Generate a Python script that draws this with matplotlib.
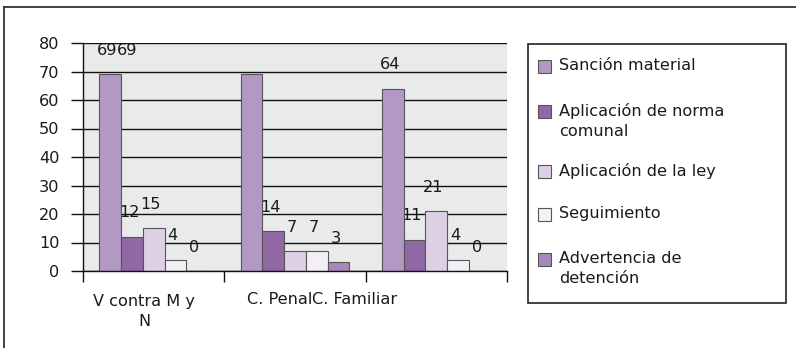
import matplotlib
matplotlib.use("Agg")
import matplotlib.pyplot as plt
from matplotlib.patches import Rectangle
from matplotlib.lines import Line2D
from matplotlib.transforms import blended_transform_factory
import numpy as np

categories = ["V contra M y\nN", "C. Penal", "C. Familiar"]
series_names = [
    "Sanción material",
    "Aplicación de norma\ncomunal",
    "Aplicación de la ley",
    "Seguimiento",
    "Advertencia de\ndetención",
]
sancion_material = [69, 69, 64]
norma_comunal = [12, 14, 11]
aplicacion_ley = [15, 7, 21]
seguimiento = [4, 7, 4]
advertencia = [0, 3, 0]
series_values = [sancion_material, norma_comunal, aplicacion_ley, seguimiento, advertencia]
y_ticks = [0, 10, 20, 30, 40, 50, 60, 70, 80]

colors = ["#b398c4", "#9068a5", "#ddd0e5", "#f3eff6", "#a888bc"]
edge = "#555555"
text_color = "#1a1a1a"

W, H = 796, 348
fig = plt.figure(figsize=(W / 100, H / 100), dpi=100)
fig.patch.set_facecolor("white")

# outer chart frame (top and left edges)
fig.add_artist(Line2D([4 / W, 1.0], [1 - 7 / H, 1 - 7 / H], color="#333333", lw=1.3))
fig.add_artist(Line2D([4 / W, 4 / W], [0, 1 - 7 / H], color="#333333", lw=1.3))

ax = fig.add_axes([83 / W, 77 / H, 424 / W, 228 / H])
ax.set_facecolor("#e9eaea")

n_series = len(series_values)
bar_w = 1 / (n_series + 1.5)
x = np.arange(len(categories))

for i, (vals, col) in enumerate(zip(series_values, colors)):
    offs = (i - (n_series - 1) / 2) * bar_w
    ax.bar(x + offs, vals, width=bar_w, color=col, edgecolor=edge, linewidth=0.8, zorder=2)
    for j, v in enumerate(vals):
        lx = x[j] + offs - 0.02
        # the first "C. Penal" value label sits beside the first group's label
        if i == 0 and j == 1:
            lx = -0.19
        ax.text(lx, v + 8.4, str(v), ha="center", va="center", fontsize=11.6,
                color=text_color, zorder=0.4)

ax.set_ylim(0, 80)
ax.set_xlim(-0.5, len(categories) - 0.5)
ax.set_yticks(y_ticks)
ax.yaxis.grid(True, color="#111111", linewidth=1.0)
ax.set_axisbelow(True)
ax.tick_params(axis="y", length=9, width=1.0, pad=8, labelsize=11.6, color="#111111",
               labelcolor=text_color)
ax.set_xticks(np.arange(len(categories) + 1) - 0.5)
ax.set_xticklabels([])
ax.tick_params(axis="x", length=8, width=1.0, color="#111111")
for s in ["top", "right"]:
    ax.spines[s].set_visible(False)
for s in ["left", "bottom"]:
    ax.spines[s].set_color("#111111")
    ax.spines[s].set_linewidth(1.0)

# category labels
tr = blended_transform_factory(ax.transData, ax.transAxes)
ax.text(-0.068, -(311.5 - 271) / 228, categories[0], transform=tr, ha="center", va="center",
        fontsize=11.6, linespacing=1.4, color=text_color, clip_on=False)
ax.text(1.12, -(300 - 271) / 228, categories[1], transform=tr, ha="right", va="center",
        fontsize=11.6, color=text_color, clip_on=False)
ax.text(1.12, -(300 - 271) / 228, categories[2], transform=tr, ha="left", va="center",
        fontsize=11.6, color=text_color, clip_on=False)

# legend box
lx0, ly0, lx1, ly1 = 528, 44, 786, 303
fig.add_artist(Rectangle((lx0 / W, 1 - ly1 / H), (lx1 - lx0) / W, (ly1 - ly0) / H,
                         facecolor="white", edgecolor="#222222", lw=1.2))
entry_y = [66, 111, 171, 214, 259]
for name, col, yc in zip(series_names, colors, entry_y):
    fig.add_artist(Rectangle((538 / W, 1 - (yc + 6.5) / H), 13 / W, 13 / H,
                             facecolor=col, edgecolor=edge, lw=0.8))
    fig.text(559 / W, 1 - (yc - 8) / H, name, ha="left", va="top", fontsize=11.6,
             linespacing=1.45, color=text_color)

fig.savefig("out.png", dpi=100)
